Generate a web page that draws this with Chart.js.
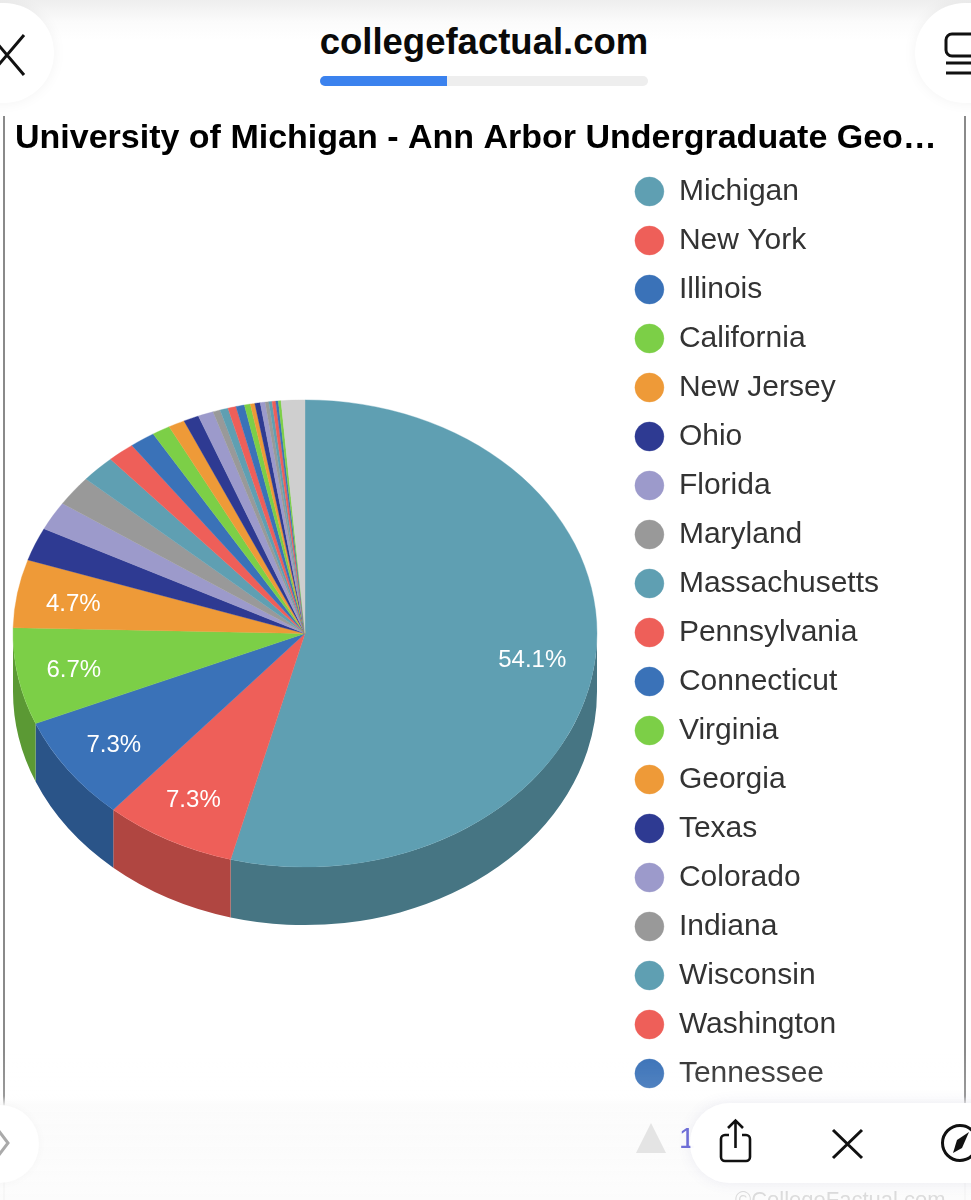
<!DOCTYPE html>
<html><head><meta charset="utf-8">
<script src="https://cdn.jsdelivr.net/npm/chart.js@4/dist/chart.umd.min.js"></script>
<style>
html,body{margin:0;padding:0;background:#fff;width:971px;height:1200px;overflow:hidden;font-family:"Liberation Sans",Arial,sans-serif}
canvas{position:absolute;left:0;top:0}
.ab{position:absolute}
</style></head><body>
<canvas id="c" width="971" height="1200"></canvas>
<div class="ab" style="left:3px;top:116px;width:1.5px;height:1084px;background:#8a8a8a"></div>
<div class="ab" style="left:964px;top:116px;width:1.5px;height:1084px;background:#8a8a8a"></div>
<div class="ab" style="left:0;top:0;width:971px;height:116px;background:linear-gradient(#eeeeee 0,#fbfbfb 22px,#fff 40px)"></div>
<div class="ab" style="left:-50px;top:3px;width:104px;height:100px;border-radius:50px;background:#fff;box-shadow:0 0 14px rgba(0,0,0,.05)"></div>
<div class="ab" style="left:915px;top:3px;width:110px;height:100px;border-radius:50px;background:#fff;box-shadow:0 0 14px rgba(0,0,0,.05)"></div>
<svg class="ab" style="left:0;top:32px" width="30" height="50"><path d="M-10 3L24 43M24 3L-10 43" stroke="#111" stroke-width="3" fill="none"/></svg>
<svg class="ab" style="left:940px;top:30px" width="31" height="50"><path d="M32 4H12a6 6 0 0 0-6 6v10a6 6 0 0 0 6 6H32M6 33H32M6 43H32" stroke="#111" stroke-width="3" fill="none"/></svg>
<div class="ab" style="left:300px;top:21px;width:368px;text-align:center;font-weight:700;font-size:36.500px;line-height:42px;color:#0a0a0a;white-space:nowrap">collegefactual.com</div>
<div class="ab" style="left:320px;top:76px;width:328px;height:10px;border-radius:5px;background:#eeeeee;overflow:hidden"><div style="width:127px;height:10px;background:#3b82ee"></div></div>
<div class="ab" style="left:0;top:1050px;width:971px;height:150px;background:linear-gradient(rgba(255,255,255,0) 0,rgba(255,255,255,.14) 46px,rgba(251,251,251,.93) 56px,rgba(252,252,252,.96) 100%)"></div>
<div class="ab" style="left:636px;top:1123px;width:0;height:0;border-left:15px solid transparent;border-right:15px solid transparent;border-bottom:30px solid #e4e4e4"></div>
<div class="ab" style="left:679px;top:1121px;font-size:29px;line-height:34px;color:#6f6fd8">1</div>
<div class="ab" style="left:-50px;top:1105px;width:89px;height:78px;border-radius:39px;background:#fff;box-shadow:0 0 10px rgba(0,0,0,.03)"></div>
<svg class="ab" style="left:0;top:1120px" width="12" height="46"><path d="M-8 2L8 23L-8 44" stroke="#aaa" stroke-width="3" fill="none"/></svg>
<div class="ab" style="left:735px;top:1186px;font-size:22px;line-height:28px;color:#dcdcdc;white-space:nowrap">©CollegeFactual.com</div>
<div class="ab" style="left:690px;top:1103px;width:340px;height:80px;border-radius:40px;background:rgba(255,255,255,.97);box-shadow:0 0 14px rgba(90,90,160,.10)"></div>
<svg class="ab" style="left:717px;top:1118px" width="40" height="46"><path d="M12 17H8a4 4 0 0 0-4 4v18a4 4 0 0 0 4 4h21a4 4 0 0 0 4-4V21a4 4 0 0 0-4-4h-4M18.500 30V3M11 10l7.500-7.500L26 10" stroke="#111" stroke-width="2.600" fill="none"/></svg>
<svg class="ab" style="left:830px;top:1127px" width="36" height="34"><path d="M3 3L32 31M32 3L3 31" stroke="#111" stroke-width="3" fill="none"/></svg>
<svg class="ab" style="left:940px;top:1122px" width="31" height="42"><circle cx="20" cy="21" r="17.500" stroke="#111" stroke-width="3" fill="none"/><path d="M29 10L22 26L13 31L17 18Z" fill="#111"/></svg>
<script>
const chartTitle = "University of Michigan - Ann Arbor Undergraduate Geo…";
const categories = ["Michigan","New York","Illinois","California","New Jersey","Ohio","Florida","Maryland","Massachusetts","Pennsylvania","Connecticut","Virginia","Georgia","Texas","Colorado","Indiana","Wisconsin","Washington","Tennessee"];
const values = [54.1,7.3,7.3,6.7,4.7,2.3,2.0,2.1,1.9,1.5,1.4,1.0,0.9,0.85,0.85,0.4,0.45,0.45,0.47];
const hiddenPageValues = [0.33,0.25,0.3,0.27,0.2,0.18,0.2,0.14,0.15,1.31];
const palette = ["#5f9fb2","#ee5f59","#3a72b8","#7ccf47","#ee9a38","#2e3a92","#9c9acb","#999999"];
const finalSliceColor = "#cfcfcf";
const labelThreshold = 4;

const allValues = values.concat(hiddenPageValues);
const allLabels = categories.concat(hiddenPageValues.map(() => ""));
const colors = allValues.map((_, i) => i === allValues.length - 1 ? finalSliceColor : palette[i % palette.length]);

const R = 292, squash = 0.8, depth = 58, pieCenterX = 305, labelFrac = 0.795, labelNudgeX = -3, labelNudgeY = 3;
function darken(hex){
  const n = parseInt(hex.slice(1),16), f = 0.74;
  return `rgb(${((n>>16)&255)*f|0},${((n>>8)&255)*f|0},${(n&255)*f|0})`;
}
const tiltPlugin = {
  id:"tilt",
  afterLayout(chart){ chart.titleBlock.right = chart.width; },
  beforeDatasetsDraw(chart){
    const ctx = chart.ctx, arcs = chart.getDatasetMeta(0).data;
    const cx = arcs[0].x, cy = arcs[0].y;
    ctx.save();
    ctx.translate(pieCenterX-cx,0);
    arcs.forEach((a,i)=>{
      const p = a.getProps(["startAngle","endAngle","outerRadius"],true);
      const s = Math.max(p.startAngle,0), e = Math.min(p.endAngle,Math.PI);
      if(e <= s) return;
      ctx.beginPath();
      ctx.ellipse(cx,cy,p.outerRadius,p.outerRadius*squash,0,s,e);
      ctx.ellipse(cx,cy+depth,p.outerRadius,p.outerRadius*squash,0,e,s,true);
      ctx.closePath();
      ctx.fillStyle = darken(colors[i]);
      ctx.fill();
    });
    ctx.translate(cx,cy);
    ctx.scale(1,squash);
    ctx.translate(-cx,-cy);
  },
  afterDatasetsDraw(chart){
    const ctx = chart.ctx, arcs = chart.getDatasetMeta(0).data;
    ctx.restore();
    ctx.save();
    ctx.fillStyle = "#fff";
    ctx.font = '24px "Liberation Sans"';
    ctx.textAlign = "center";
    ctx.textBaseline = "middle";
    arcs.forEach((a,i)=>{
      if(allValues[i] < labelThreshold) return;
      const p = a.getProps(["startAngle","endAngle","outerRadius","x","y"],true);
      const m = (p.startAngle+p.endAngle)/2, r = p.outerRadius*labelFrac;
      ctx.fillText(allValues[i].toFixed(1)+"%", pieCenterX+labelNudgeX+r*Math.cos(m), p.y+labelNudgeY+r*squash*Math.sin(m));
    });
    ctx.restore();
  }
};
new Chart(document.getElementById("c"),{
  type:"pie",
  data:{labels:allLabels,datasets:[{data:allValues,backgroundColor:colors,borderColor:colors,borderWidth:0.4,radius:R,clip:false}]},
  options:{
    responsive:false,animation:false,devicePixelRatio:1,
    layout:{padding:{left:15,right:82,top:0,bottom:90.5}},
    plugins:{
      tooltip:{enabled:false},
      title:{display:true,text:chartTitle,align:"start",color:"#000",
        font:{family:"Liberation Sans",size:34,weight:"bold",lineHeight:1},
        padding:{top:122,bottom:1.5}},
      legend:{position:"right",align:"start",fullSize:false,
        labels:{usePointStyle:true,pointStyle:"circle",boxWidth:29,boxHeight:20.5,pointStyleWidth:29,padding:19,color:"#333",
          font:{family:"Liberation Sans",size:30},
          filter:(item)=>item.index<categories.length}}
    }
  },
  plugins:[tiltPlugin]
});
</script>
</body></html>
